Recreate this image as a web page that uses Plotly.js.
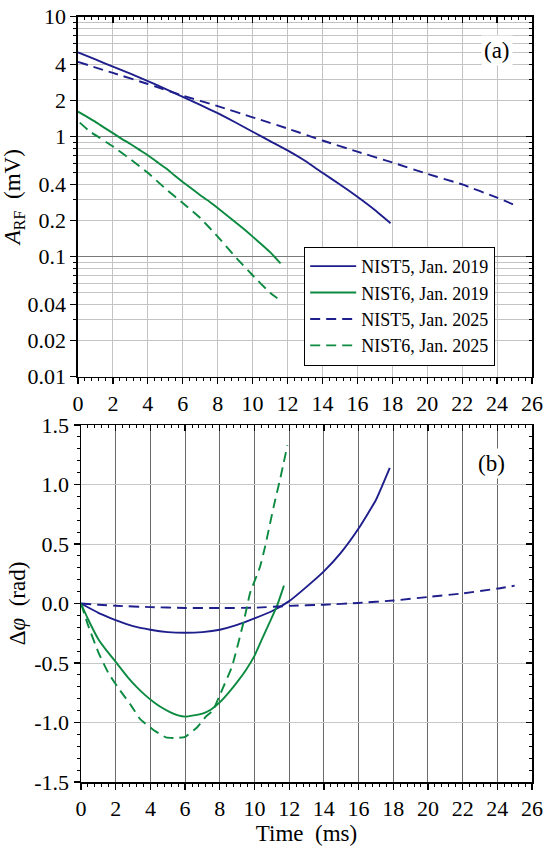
<!DOCTYPE html>
<html>
<head>
<meta charset="utf-8">
<script src="https://cdn.plot.ly/plotly-3.0.1.min.js"></script>
<style>
html,body{margin:0;padding:0;background:#fff;}
#chart{width:550px;height:848px;}
</style>
</head>
<body>
<div id="chart"></div>
<script>
// ---------- DATA ----------
// Panel (a): RF amplitude (mV) vs time (ms)
const tAmpNIST5_2019 = [0, 1, 2, 3, 4, 5, 6, 7, 8, 9, 10, 11, 12, 13, 14, 15, 16, 17, 17.9];
const ampNIST5_2019  = [5.05, 4.4, 3.83, 3.35, 2.91, 2.5, 2.15, 1.84, 1.57, 1.32, 1.10, 0.92, 0.77, 0.63, 0.50, 0.40, 0.316, 0.245, 0.19];

const tAmpNIST6_2019 = [0, 0.5, 1, 1.5, 2, 2.5, 3, 3.5, 4, 4.5, 5, 5.5, 6, 6.5, 7, 7.5, 8, 8.5, 9, 9.5, 10, 10.5, 11, 11.6];
const ampNIST6_2019  = [1.62, 1.47, 1.33, 1.19, 1.07, 0.96, 0.87, 0.78, 0.70, 0.62, 0.55, 0.48, 0.42, 0.37, 0.325, 0.29, 0.254, 0.223, 0.195, 0.17, 0.147, 0.127, 0.109, 0.088];

const tAmpNIST5_2025 = [0, 2, 4, 6, 8, 10, 12, 14, 16, 18, 20, 22, 24, 25];
const ampNIST5_2025  = [4.2, 3.4, 2.75, 2.2, 1.8, 1.45, 1.17, 0.93, 0.75, 0.61, 0.49, 0.40, 0.31, 0.27];

const tAmpNIST6_2025 = [0.1, 0.7, 2, 3, 4, 5, 6, 7, 8, 9, 10, 11, 11.6];
const ampNIST6_2025  = [1.31, 1.10, 0.83, 0.65, 0.50, 0.37, 0.28, 0.21, 0.147, 0.10, 0.07, 0.05, 0.043];

// Panel (b): phase change (rad) vs time (ms)
const tPhNIST5_2019 = [0, 0.5, 1, 1.5, 2, 3, 4, 5, 6, 7, 8, 9, 10, 11, 12, 13, 14, 15, 16, 17, 17.8];
const phNIST5_2019  = [0, -0.04, -0.078, -0.11, -0.14, -0.19, -0.22, -0.24, -0.246, -0.24, -0.22, -0.18, -0.125, -0.065, 0.02, 0.14, 0.27, 0.43, 0.63, 0.87, 1.14];

const tPhNIST6_2019 = [0, 0.4, 1, 1.5, 2, 2.7, 3.2, 3.7, 4.2, 4.6, 5.1, 5.6, 6, 6.5, 7, 7.5, 8, 8.5, 9, 9.5, 10, 10.4, 10.9, 11.3, 11.7];
const phNIST6_2019  = [0, -0.13, -0.3, -0.4, -0.49, -0.62, -0.7, -0.77, -0.83, -0.87, -0.91, -0.94, -0.95, -0.94, -0.925, -0.89, -0.83, -0.75, -0.66, -0.56, -0.44, -0.31, -0.15, -0.02, 0.15];

const tPhNIST5_2025 = [0, 1, 2, 4, 6, 8, 10, 12, 14, 16, 18, 20, 22, 24, 25];
const phNIST5_2025  = [0, -0.01, -0.019, -0.03, -0.037, -0.038, -0.035, -0.02, -0.01, 0.005, 0.025, 0.055, 0.085, 0.125, 0.15];

const tPhNIST6_2025 = [0, 0.4, 1, 1.6, 2.3, 2.9, 3.4, 4.2, 4.9, 5.5, 6, 6.7, 7.2, 7.6, 8, 8.7, 9.4, 9.75, 10.3, 10.6, 11.1, 11.5, 11.9];
const phNIST6_2025  = [0, -0.18, -0.41, -0.59, -0.74, -0.86, -0.97, -1.065, -1.125, -1.13, -1.12, -1.04, -0.95, -0.9, -0.77, -0.53, -0.14, 0.09, 0.3, 0.47, 0.81, 1.06, 1.33];

// Series names
const seriesNames = ['NIST5, Jan. 2019', 'NIST6, Jan. 2019', 'NIST5, Jan. 2025', 'NIST6, Jan. 2025'];

// Tick labels
const timeTicks     = [0, 2, 4, 6, 8, 10, 12, 14, 16, 18, 20, 22, 24, 26];
const ampTickVals   = [0.01, 0.02, 0.04, 0.1, 0.2, 0.4, 1, 2, 4, 10];
const ampTickText   = ['0.01', '0.02', '0.04', '0.1', '0.2', '0.4', '1', '2', '4', '10'];
const ampDecades    = [0.01, 0.1, 1, 10];
const ampMinorVals  = [0.02, 0.03, 0.04, 0.05, 0.06, 0.07, 0.08, 0.09,
                       0.2, 0.3, 0.4, 0.5, 0.6, 0.7, 0.8, 0.9,
                       2, 3, 4, 5, 6, 7, 8, 9];
const phaseTickVals = [-1.5, -1, -0.5, 0, 0.5, 1, 1.5];
const phaseTickText = ['-1.5', '-1.0', '-0.5', '0.0', '0.5', '1.0', '1.5'];

// ---------- STYLE ----------
const BLUE = '#1e1e8c';
const GREEN = '#0b8a40';
const FONT = 'Liberation Serif, Times New Roman, serif';
const DASH = '10px,6px';
const LW = 1.9;

function line(x, y, color, dash, name, xa, ya, legend) {
  return {x: x, y: y, type: 'scatter', mode: 'lines', name: name,
          xaxis: xa, yaxis: ya, showlegend: legend, legendgroup: name,
          line: {color: color, width: LW, dash: dash, shape: 'spline', smoothing: 0.4},
          hoverinfo: 'skip'};
}
function ghost(x, y, xa, ya) {
  return {x: x, y: y, type: 'scatter', mode: 'lines', xaxis: xa, yaxis: ya,
          showlegend: false, hoverinfo: 'skip', line: {color: 'rgba(0,0,0,0)', width: 0}};
}

const traces = [
  ghost(tAmpNIST5_2019, ampNIST5_2019, 'x3', 'y'),
  ghost(tAmpNIST5_2019, ampNIST5_2019, 'x', 'y3'),
  ghost(tPhNIST5_2019, phNIST5_2019, 'x4', 'y2'),
  ghost(tPhNIST5_2019, phNIST5_2019, 'x2', 'y4'),

  line(tAmpNIST5_2019, ampNIST5_2019, BLUE, 'solid', seriesNames[0], 'x', 'y', true),
  line(tAmpNIST6_2019, ampNIST6_2019, GREEN, 'solid', seriesNames[1], 'x', 'y', true),
  line(tAmpNIST5_2025, ampNIST5_2025, BLUE, DASH, seriesNames[2], 'x', 'y', true),
  line(tAmpNIST6_2025, ampNIST6_2025, GREEN, DASH, seriesNames[3], 'x', 'y', true),

  line(tPhNIST5_2019, phNIST5_2019, BLUE, 'solid', seriesNames[0], 'x2', 'y2', false),
  line(tPhNIST6_2019, phNIST6_2019, GREEN, 'solid', seriesNames[1], 'x2', 'y2', false),
  line(tPhNIST5_2025, phNIST5_2025, BLUE, DASH, seriesNames[2], 'x2', 'y2', false),
  line(tPhNIST6_2025, phNIST6_2025, GREEN, DASH, seriesNames[3], 'x2', 'y2', false)
];

const tickFont = {family: FONT, size: 22, color: '#000'};
const base = {
  showline: true, linecolor: '#000', linewidth: 1.5,
  ticks: 'outside', ticklen: 6, tickwidth: 1.3, tickcolor: '#000',
  tickfont: tickFont, zeroline: false, automargin: false, fixedrange: true
};
function overlayBase(over, side, anchor) {
  return Object.assign({}, base, {overlaying: over, side: side, anchor: anchor,
    ticks: 'inside', showticklabels: false, showgrid: false});
}

const TOP_X = [0.1418, 0.9673];
const BOT_X = [0.1473, 0.9673];
const TOP_Y = [0.5558, 0.9803];
const BOT_Y = [0.0778, 0.4988];

const layout = {
  width: 550, height: 848,
  margin: {l: 0, r: 0, t: 0, b: 0},
  paper_bgcolor: '#fff', plot_bgcolor: 'rgba(0,0,0,0)',
  font: {family: FONT, color: '#000'},
  showlegend: true,
  legend: {x: 0.5527, y: 0.709, xanchor: 'left', yanchor: 'top',
           bordercolor: '#000', borderwidth: 1.2, bgcolor: '#fff', itemwidth: 46,
           font: {family: FONT, size: 18, color: '#000'}, tracegroupgap: 0,
           itemclick: false, itemdoubleclick: false},

  // ---- panel (a) ----
  xaxis: Object.assign({}, base, {
    domain: TOP_X, anchor: 'y', range: [0, 26], tickmode: 'array', tickvals: timeTicks,
    showgrid: true, gridcolor: '#c4c4c4', gridwidth: 1,
    minor: {tick0: 0, dtick: 0.4, ticks: 'outside', ticklen: 3, tickwidth: 1, tickcolor: '#000', showgrid: false}
  }),
  yaxis: Object.assign({}, base, {
    domain: TOP_Y, anchor: 'x', type: 'log', range: [-2, 1],
    tickmode: 'array', tickvals: ampTickVals, ticktext: ampTickText, showgrid: false,
    minor: {tickmode: 'array', tickvals: ampMinorVals, ticks: 'outside', ticklen: 3, tickwidth: 1, tickcolor: '#000', showgrid: false},
    title: {text: '<i>A</i><sub>RF</sub>  (mV)', font: {family: FONT, size: 23, color: '#000'}, standoff: 2}
  }),
  xaxis3: Object.assign(overlayBase('x', 'top', 'y'), {
    range: [0, 26], tickmode: 'array', tickvals: timeTicks,
    minor: {tick0: 0, dtick: 0.4, ticks: 'inside', ticklen: 3, tickwidth: 1, tickcolor: '#000', showgrid: false}
  }),
  yaxis3: Object.assign(overlayBase('y', 'right', 'x'), {
    type: 'log', range: [-2, 1], tickmode: 'array', tickvals: ampDecades,
    showgrid: true, gridcolor: '#7a7a7a', gridwidth: 1,
    minor: {tickmode: 'array', tickvals: ampMinorVals, ticks: 'inside', ticklen: 3, tickwidth: 1, tickcolor: '#000',
            showgrid: true, gridcolor: '#c4c4c4', gridwidth: 1}
  }),

  // ---- panel (b) ----
  xaxis2: Object.assign({}, base, {
    domain: BOT_X, anchor: 'y2', range: [0, 26], tickmode: 'array', tickvals: timeTicks,
    showgrid: true, gridcolor: '#6a6a6a', gridwidth: 1,
    minor: {tick0: 0, dtick: 0.4, ticks: 'outside', ticklen: 3, tickwidth: 1, tickcolor: '#000', showgrid: false},
    title: {text: 'Time  (ms)', font: {family: FONT, size: 23, color: '#000'}, standoff: 1}
  }),
  yaxis2: Object.assign({}, base, {
    domain: BOT_Y, anchor: 'x2', range: [-1.5, 1.5],
    tickmode: 'array', tickvals: phaseTickVals, ticktext: phaseTickText,
    showgrid: true, gridcolor: '#c8c8c8', gridwidth: 1,
    minor: {tick0: 0, dtick: 0.1, ticks: 'outside', ticklen: 3, tickwidth: 1, tickcolor: '#000', showgrid: false},
    title: {text: 'Δ<i>φ</i>  (rad)', font: {family: FONT, size: 23, color: '#000'}, standoff: 2}
  }),
  xaxis4: Object.assign(overlayBase('x2', 'top', 'y2'), {
    range: [0, 26], tickmode: 'array', tickvals: timeTicks,
    minor: {tick0: 0, dtick: 0.4, ticks: 'inside', ticklen: 3, tickwidth: 1, tickcolor: '#000', showgrid: false}
  }),
  yaxis4: Object.assign(overlayBase('y2', 'right', 'x2'), {
    range: [-1.5, 1.5], tickmode: 'array', tickvals: phaseTickVals,
    minor: {tick0: 0, dtick: 0.1, ticks: 'inside', ticklen: 3, tickwidth: 1, tickcolor: '#000', showgrid: false}
  }),

  annotations: [
    {text: '(a)', xref: 'paper', yref: 'paper', x: 0.9042, y: 0.941, xanchor: 'center', yanchor: 'middle',
     showarrow: false, bgcolor: '#fff', borderpad: 2, font: {family: FONT, size: 23, color: '#000'}},
    {text: '(b)', xref: 'paper', yref: 'paper', x: 0.894, y: 0.4536, xanchor: 'center', yanchor: 'middle',
     showarrow: false, bgcolor: '#fff', borderpad: 2, font: {family: FONT, size: 23, color: '#000'}}
  ]
};

Plotly.newPlot('chart', traces, layout, {staticPlot: true, displayModeBar: false});
</script>
</body>
</html>
